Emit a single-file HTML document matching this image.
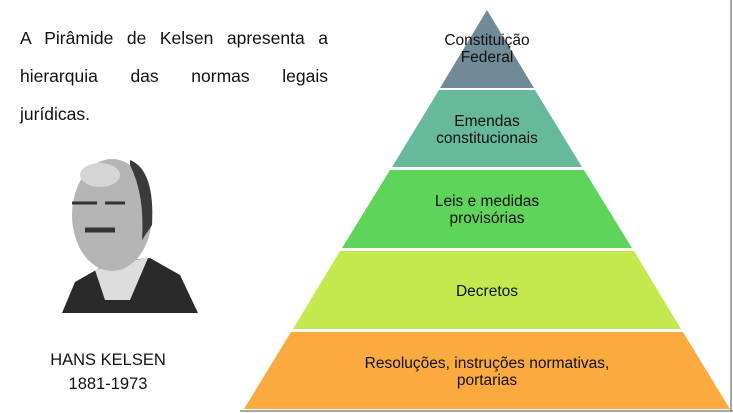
<!DOCTYPE html>
<html><head><meta charset="utf-8"><style>
body{margin:0;width:733px;height:413px;background:#fff;overflow:hidden;position:relative;font-family:"Liberation Sans",sans-serif}
.t{position:absolute;left:20px;width:308px;font-size:17.5px;line-height:38px;text-align:justify;text-align-last:justify;color:#111;top:19px}
.n{position:absolute;left:40px;width:136px;text-align:center;font-size:16.5px;color:#111}
</style></head><body>
<div class="t">A Pirâmide de Kelsen apresenta a<br>hierarquia das normas legais</div>
<div class="t" style="top:95px;text-align-last:left">jurídicas.</div>
<svg style="position:absolute;left:0;top:0" width="733" height="413">
<line x1="731" y1="0" x2="731" y2="411" stroke="#888" stroke-width="1.5"/>
<line x1="240" y1="411" x2="733" y2="411" stroke="#888" stroke-width="1.5"/>
<path d="M62 313 L75 282 L110 262 L150 258 L180 275 L198 313 Z" fill="#2a2a2a"/>
<path d="M95 270 L120 262 L148 258 L130 300 L105 300 Z" fill="#ddd"/>
<ellipse cx="112" cy="215" rx="40" ry="56" fill="#b5b5b5"/>
<path d="M130 160 Q155 170 152 225 L142 240 Q145 195 130 165 Z" fill="#3a3a3a"/>
<ellipse cx="100" cy="175" rx="20" ry="12" fill="#d5d5d5"/>
<path d="M72 203 h25 M105 203 h20" stroke="#333" stroke-width="3"/>
<path d="M85 230 h30" stroke="#333" stroke-width="5"/>
<polygon points="487,10 534,88 440,88" fill="#718a97"/>
<polygon points="439,90 535,90 582,167 392,167" fill="#66b99b"/>
<polygon points="390,170 584,170 632,248 342,248" fill="#5ed45b"/>
<polygon points="340,251 634,251 681,329 293,329" fill="#c3e94e"/>
<polygon points="291,332 683,332 730,409 244,409" fill="#fbaa40"/>
<g font-size="15.5" fill="#111" text-anchor="middle">
<text x="487" y="45">Constituição</text><text x="487" y="62">Federal</text>
<text x="487" y="126">Emendas</text><text x="487" y="143">constitucionais</text>
<text x="487" y="206">Leis e medidas</text><text x="487" y="223">provisórias</text>
<text x="487" y="296">Decretos</text>
<text x="487" y="368">Resoluções, instruções normativas,</text><text x="487" y="385">portarias</text>
</g>
</svg>
<div class="n" style="top:351px">HANS KELSEN</div>
<div class="n" style="top:375px">1881-1973</div>
</body></html>
